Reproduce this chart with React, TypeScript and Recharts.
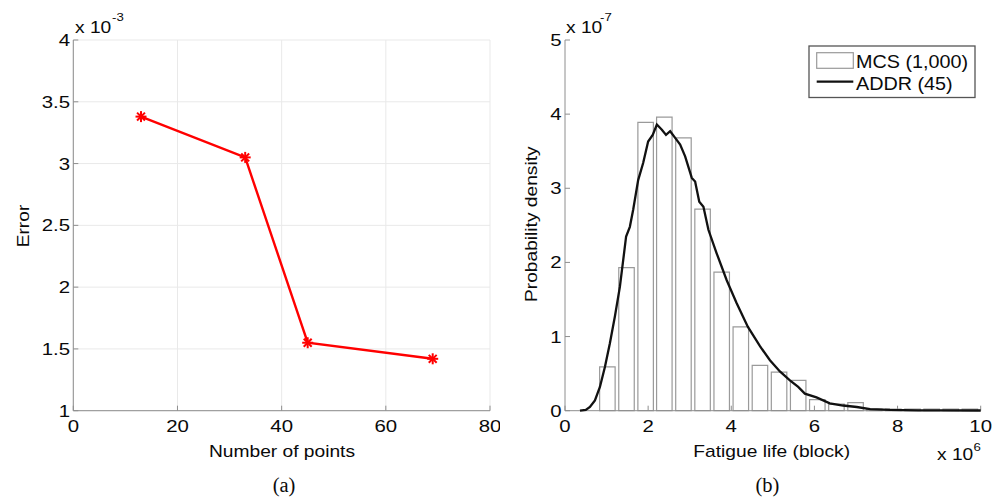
import React from 'react';
import { LineChart, Line, BarChart, Bar, XAxis, YAxis, CartesianGrid } from 'recharts';

// ---------- Panel (a): error vs number of points (error in units of 1e-3) ----------
const pointCounts = [13, 33, 45, 69];
const errorValues = [3.38, 3.05, 1.55, 1.42];
const errorXTicks = [0, 20, 40, 60, 80];
const errorYTicks = [1, 1.5, 2, 2.5, 3, 3.5, 4];

// ---------- Panel (b): fatigue life PDF (life in 1e6 blocks, density in 1e-7) ----------
const binCenters = [1.01, 1.47, 1.93, 2.38, 2.84, 3.3, 3.76, 4.22, 4.68, 5.14, 5.6, 6.06, 6.52, 6.98, 7.43, 7.89, 8.35, 8.81, 9.27, 9.73];
const mcsDensity = [0.59, 1.93, 3.89, 3.96, 3.68, 2.72, 1.87, 1.13, 0.61, 0.52, 0.41, 0.15, 0.09, 0.11, 0.02, 0.02, 0.02, 0.02, 0.02, 0.02];

const lifeValues = [0.36, 0.5, 0.6, 0.72, 0.84, 0.96, 1.08, 1.2, 1.32, 1.4, 1.47, 1.56, 1.64, 1.76, 1.88, 2.0, 2.11, 2.21, 2.33, 2.43, 2.53, 2.65, 2.77, 2.89, 3.05, 3.13, 3.23, 3.33, 3.45, 3.65, 3.89, 4.13, 4.4, 4.69, 4.93, 5.17, 5.41, 5.61, 5.77, 6.05, 6.37, 6.69, 7.02, 7.34, 7.82, 8.5, 9.02, 10.0];
const addrDensity = [0, 0.01, 0.05, 0.14, 0.32, 0.59, 0.91, 1.27, 1.67, 2.03, 2.35, 2.48, 2.71, 3.11, 3.34, 3.63, 3.72, 3.86, 3.79, 3.72, 3.77, 3.68, 3.59, 3.43, 3.14, 3.09, 2.82, 2.75, 2.44, 2.12, 1.76, 1.45, 1.13, 0.87, 0.68, 0.53, 0.41, 0.32, 0.23, 0.18, 0.1, 0.07, 0.05, 0.02, 0.01, 0.005, 0.005, 0.003];
const lifeXTicks = [0, 2, 4, 6, 8, 10];
const densityYTicks = [0, 1, 2, 3, 4, 5];

const legendLabels = ['MCS (1,000)', 'ADDR (45)'];

const errorData = pointCounts.map((n, i) => ({ n, err: errorValues[i] }));
const histData = binCenters.map((x, i) => ({ x, d: mcsDensity[i] }));
const curveData = lifeValues.map((x, i) => ({ x, p: addrDensity[i] }));

const SANS = "'Liberation Sans', Arial, Helvetica, sans-serif";
const SERIF = "'Liberation Serif', 'Times New Roman', serif";
const SX = 1.2;
const FRAME = '#8e8e8e';
const INK = '#0a0a0a';

const BottomTick = (props: any) => {
  const { x, y, payload } = props;
  return (
    <text transform={`translate(${x},${y}) scale(${SX},1)`} x={0} y={0} dy="0.71em" textAnchor="middle"
      fontFamily={SANS} fontSize={17} fill={INK}>{payload.value}</text>
  );
};
const LeftTick = (props: any) => {
  const { x, y, payload } = props;
  return (
    <text transform={`translate(${x},${y}) scale(${SX},1)`} x={0} y={0} dy="0.355em" textAnchor="end"
      fontFamily={SANS} fontSize={17} fill={INK}>{payload.value}</text>
  );
};

const renderAsterisk = (p: any) => {
  const { cx, cy, index } = p;
  const r = 5.5;
  const d = r * 0.72;
  return (
    <g key={`ast-${index}`} stroke="#ff0000" strokeWidth={2}>
      <line x1={cx - r} y1={cy} x2={cx + r} y2={cy} />
      <line x1={cx} y1={cy - r} x2={cx} y2={cy + r} />
      <line x1={cx - d} y1={cy - d} x2={cx + d} y2={cy + d} />
      <line x1={cx - d} y1={cy + d} x2={cx + d} y2={cy - d} />
    </g>
  );
};

const SText = ({ x, y, size, anchor = 'start', sx = SX, rotate = 0, family = SANS, children }: any) => (
  <text transform={`translate(${x},${y}) rotate(${rotate}) scale(${sx},1)`} x={0} y={0} textAnchor={anchor}
    fontSize={size} fontFamily={family} fill={INK}>{children}</text>
);

const axisCommon = {
  stroke: FRAME,
  tickSize: -5,
  axisLine: { stroke: FRAME, strokeWidth: 1 },
  tickLine: { stroke: FRAME, strokeWidth: 1 },
};

export default function App() {
  return (
    <div style={{ position: 'absolute', left: 0, top: 0, width: 1000, height: 499, background: '#fff', overflow: 'hidden' }}>
      {/* Panel (a) */}
      <div style={{ position: 'absolute', left: 0, top: 0 }}>
        <LineChart width={500} height={499} data={errorData} margin={{ top: 40, right: 10, bottom: 58.3, left: 13.3 }}>
          <CartesianGrid stroke="#e9e9e9" strokeWidth={1} />
          <XAxis {...axisCommon} dataKey="n" type="number" domain={[0, 80]} ticks={errorXTicks} height={30}
            tickMargin={14.3} tick={<BottomTick />} interval={0} />
          <XAxis {...axisCommon} xAxisId="top" orientation="top" type="number" domain={[0, 80]} ticks={errorXTicks}
            height={0} tick={false} interval={0} />
          <YAxis {...axisCommon} type="number" domain={[1, 4]} ticks={errorYTicks} width={60}
            tickMargin={8.3} tick={<LeftTick />} interval={0} />
          <YAxis {...axisCommon} yAxisId="right" orientation="right" type="number" domain={[1, 4]} ticks={errorYTicks}
            width={0} tick={false} interval={0} />
          <Line dataKey="err" stroke="#ff0000" strokeWidth={2.4} dot={renderAsterisk} activeDot={false}
            isAnimationActive={false} />
        </LineChart>
      </div>

      {/* Panel (b): histogram + frame */}
      <div style={{ position: 'absolute', left: 500, top: 0 }}>
        <BarChart width={500} height={499} data={histData} margin={{ top: 40, right: 19.3, bottom: 58.3, left: 5 }}>
          <XAxis {...axisCommon} dataKey="x" type="number" domain={[0, 10]} ticks={lifeXTicks} height={30}
            tickMargin={14.3} tick={<BottomTick />} interval={0} />
          <XAxis {...axisCommon} xAxisId="top" orientation="top" type="number" domain={[0, 10]} ticks={lifeXTicks}
            height={0} tick={false} interval={0} />
          <YAxis {...axisCommon} type="number" domain={[0, 5]} ticks={densityYTicks} width={60}
            tickMargin={8.3} tick={<LeftTick />} interval={0} />
          <YAxis {...axisCommon} yAxisId="right" orientation="right" type="number" domain={[0, 5]} ticks={densityYTicks}
            width={0} tick={false} interval={0} />
          <Bar dataKey="d" barSize={15.5} fill="#ffffff" stroke="#9a9a9a" strokeWidth={1.2} isAnimationActive={false} />
        </BarChart>
      </div>

      {/* Panel (b): ADDR curve overlay */}
      <div style={{ position: 'absolute', left: 500, top: 0 }}>
        <LineChart width={500} height={499} data={curveData} margin={{ top: 40, right: 19.3, bottom: 88.3, left: 65 }}>
          <XAxis dataKey="x" type="number" domain={[0, 10]} hide />
          <YAxis type="number" domain={[0, 5]} hide />
          <Line dataKey="p" stroke="#111111" strokeWidth={2.3} dot={false} activeDot={false} isAnimationActive={false} />
        </LineChart>
      </div>

      {/* Text and legend overlay */}
      <svg width={1000} height={499} style={{ position: 'absolute', left: 0, top: 0, pointerEvents: 'none' }}>
        {/* Panel (a) labels */}
        <SText x={75} y={33} size={16}>x 10</SText>
        <SText x={112} y={21} size={11}>-3</SText>
        <SText x={29.3} y={226} size={16} anchor="middle" rotate={-90}>Error</SText>
        <SText x={282} y={456.5} size={16} anchor="middle">Number of points</SText>
        <SText x={284} y={491.5} size={20.5} anchor="middle" sx={1} family={SERIF}>(a)</SText>

        {/* Panel (b) labels */}
        <SText x={566} y={33} size={16}>x 10</SText>
        <SText x={600} y={21} size={11}>-7</SText>
        <SText x={536.7} y={224.2} size={16} anchor="middle" rotate={-90}>Probability density</SText>
        <SText x={771.7} y={456.7} size={16} anchor="middle">Fatigue life (block)</SText>
        <SText x={937} y={460} size={16}>x 10</SText>
        <SText x={973.5} y={450.5} size={11}>6</SText>
        <SText x={767.5} y={491.5} size={20.5} anchor="middle" sx={1} family={SERIF}>(b)</SText>

        {/* Legend */}
        <rect x={809} y={46} width={166} height={51.5} fill="#ffffff" stroke="#555555" strokeWidth={1.3} />
        <rect x={816.7} y={52.7} width={36.6} height={15.6} fill="#ffffff" stroke="#9a9a9a" strokeWidth={1.2} />
        <line x1={816.7} y1={81.7} x2={853.3} y2={81.7} stroke="#111111" strokeWidth={2.3} />
        <SText x={856} y={68.3} size={18.5} sx={1.07}>{legendLabels[0]}</SText>
        <SText x={856} y={90} size={18.5} sx={1.07}>{legendLabels[1]}</SText>
      </svg>
    </div>
  );
}
